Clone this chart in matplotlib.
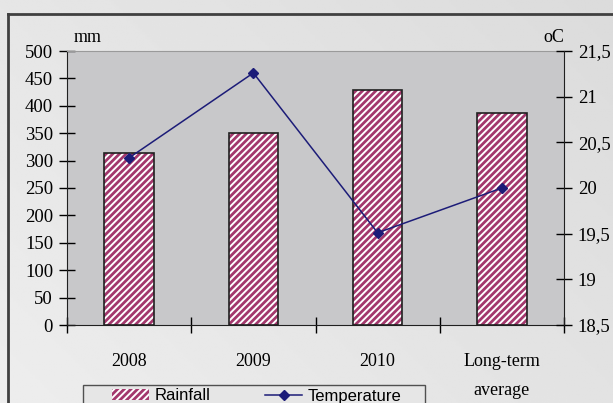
import numpy as np
import matplotlib.pyplot as plt
from matplotlib.lines import Line2D
from matplotlib.patches import Rectangle

categories = ["2008", "2009", "2010", "Long-term\naverage"]
rainfall = [314, 350, 429, 387]
temperature = [20.33, 21.26, 19.51, 20.0]
left_ticks = [0, 50, 100, 150, 200, 250, 300, 350, 400, 450, 500]
right_ticks = [18.5, 19, 19.5, 20, 20.5, 21, 21.5]
right_labels = ["18,5", "19", "19,5", "20", "20,5", "21", "21,5"]

bar_color = "#a3386d"
line_color = "#1c1c78"
serif = "Liberation Serif"
plt.rcParams["hatch.linewidth"] = 2.0

fig = plt.figure(figsize=(6.13, 4.03), dpi=100)
# light gradient backdrop
bg = fig.add_axes([0, 0, 1, 1], zorder=-10)
grad = np.linspace(0, 1, 256)
gx, gy = np.meshgrid(grad, grad)
bg.imshow(0.93 - 0.07 * (gx * 0.6 + (1 - gy) * 0.4), cmap="gray", vmin=0, vmax=1,
          aspect="auto", extent=[0, 1, 0, 1])
bg.axis("off")
fig.add_artist(Line2D([8 / 613, 8 / 613], [0, 1 - 14 / 403], color="#404040",
                      lw=2, transform=fig.transFigure))
fig.add_artist(Line2D([8 / 613, 1], [1 - 14 / 403, 1 - 14 / 403], color="#404040",
                      lw=2, transform=fig.transFigure))

ax = fig.add_axes([67 / 613, 78 / 403, 497 / 613, 274 / 403])
ax.set_facecolor("#c8c8ca")
x = np.arange(len(categories))
ax.bar(x, rainfall, width=0.4, color="white", edgecolor=bar_color, hatch="/////",
       linewidth=0, zorder=2)
ax.bar(x, rainfall, width=0.4, fill=False, edgecolor="#202020", linewidth=1.2, zorder=3)
ax.set_xlim(-0.5, 3.5)
ax.set_ylim(0, 500)
ax.set_yticks(left_ticks)
ax.set_xticks(np.arange(-0.5, 4, 1))
ax.set_xticklabels([])
ax.set_xticks(x, minor=True)
ax.set_xticklabels(categories, minor=True, fontsize=13, family=serif, linespacing=1.95,
                   va="top")
ax.tick_params(axis="x", which="minor", length=0, pad=20)
ax.tick_params(axis="x", which="major", direction="inout", length=12, width=1)
ax.tick_params(axis="y", direction="inout", length=12, width=1, labelsize=13.5, pad=4)
for lab in ax.get_yticklabels():
    lab.set_family(serif)
ax.spines["top"].set_color("#9a9a9a")
ax.spines["right"].set_visible(False)
ax.spines["left"].set_color("#202020")
ax.spines["bottom"].set_color("#202020")
ax.text(0.014, 1.02, "mm", transform=ax.transAxes, fontsize=13, family=serif,
        ha="left", va="bottom")

ax2 = ax.twinx()
ax2.plot(x, temperature, color=line_color, marker="D", markersize=5, lw=1.1, zorder=4)
ax2.set_ylim(18.5, 21.5)
ax2.set_yticks(right_ticks)
ax2.set_yticklabels(right_labels, fontsize=13.5, family=serif)
ax2.tick_params(axis="y", direction="inout", length=12, width=1, pad=4)
for s in ["top", "left", "bottom"]:
    ax2.spines[s].set_visible(False)
ax2.spines["right"].set_color("#202020")
ax2.text(1.0, 1.02, "oC", transform=ax2.transAxes, fontsize=13, family=serif,
         ha="right", va="bottom")

# legend box (runs past the bottom edge, as in the source)
fig.add_artist(Rectangle((83 / 613, -0.02), 342 / 613, 0.02 + 18 / 403,
                         transform=fig.transFigure, facecolor="#e6e6e6",
                         edgecolor="#505050", lw=1))
handles = [Rectangle((0, 0), 1, 1, facecolor="white", edgecolor=bar_color, hatch="/////",
                     lw=0),
           Line2D([], [], color=line_color, marker="D", markersize=5, lw=1.1)]
leg = fig.legend(handles, ["Rainfall", "Temperature"], ncol=2, loc="center left",
                 bbox_to_anchor=(112 / 613, 1 - 396 / 403), borderaxespad=0,
                 frameon=False, prop={"family": "Liberation Sans", "size": 12},
                 handlelength=2.2, handleheight=0.6, columnspacing=3.3, borderpad=0,
                 handletextpad=0.35)

fig.savefig("out.png", dpi=100)
